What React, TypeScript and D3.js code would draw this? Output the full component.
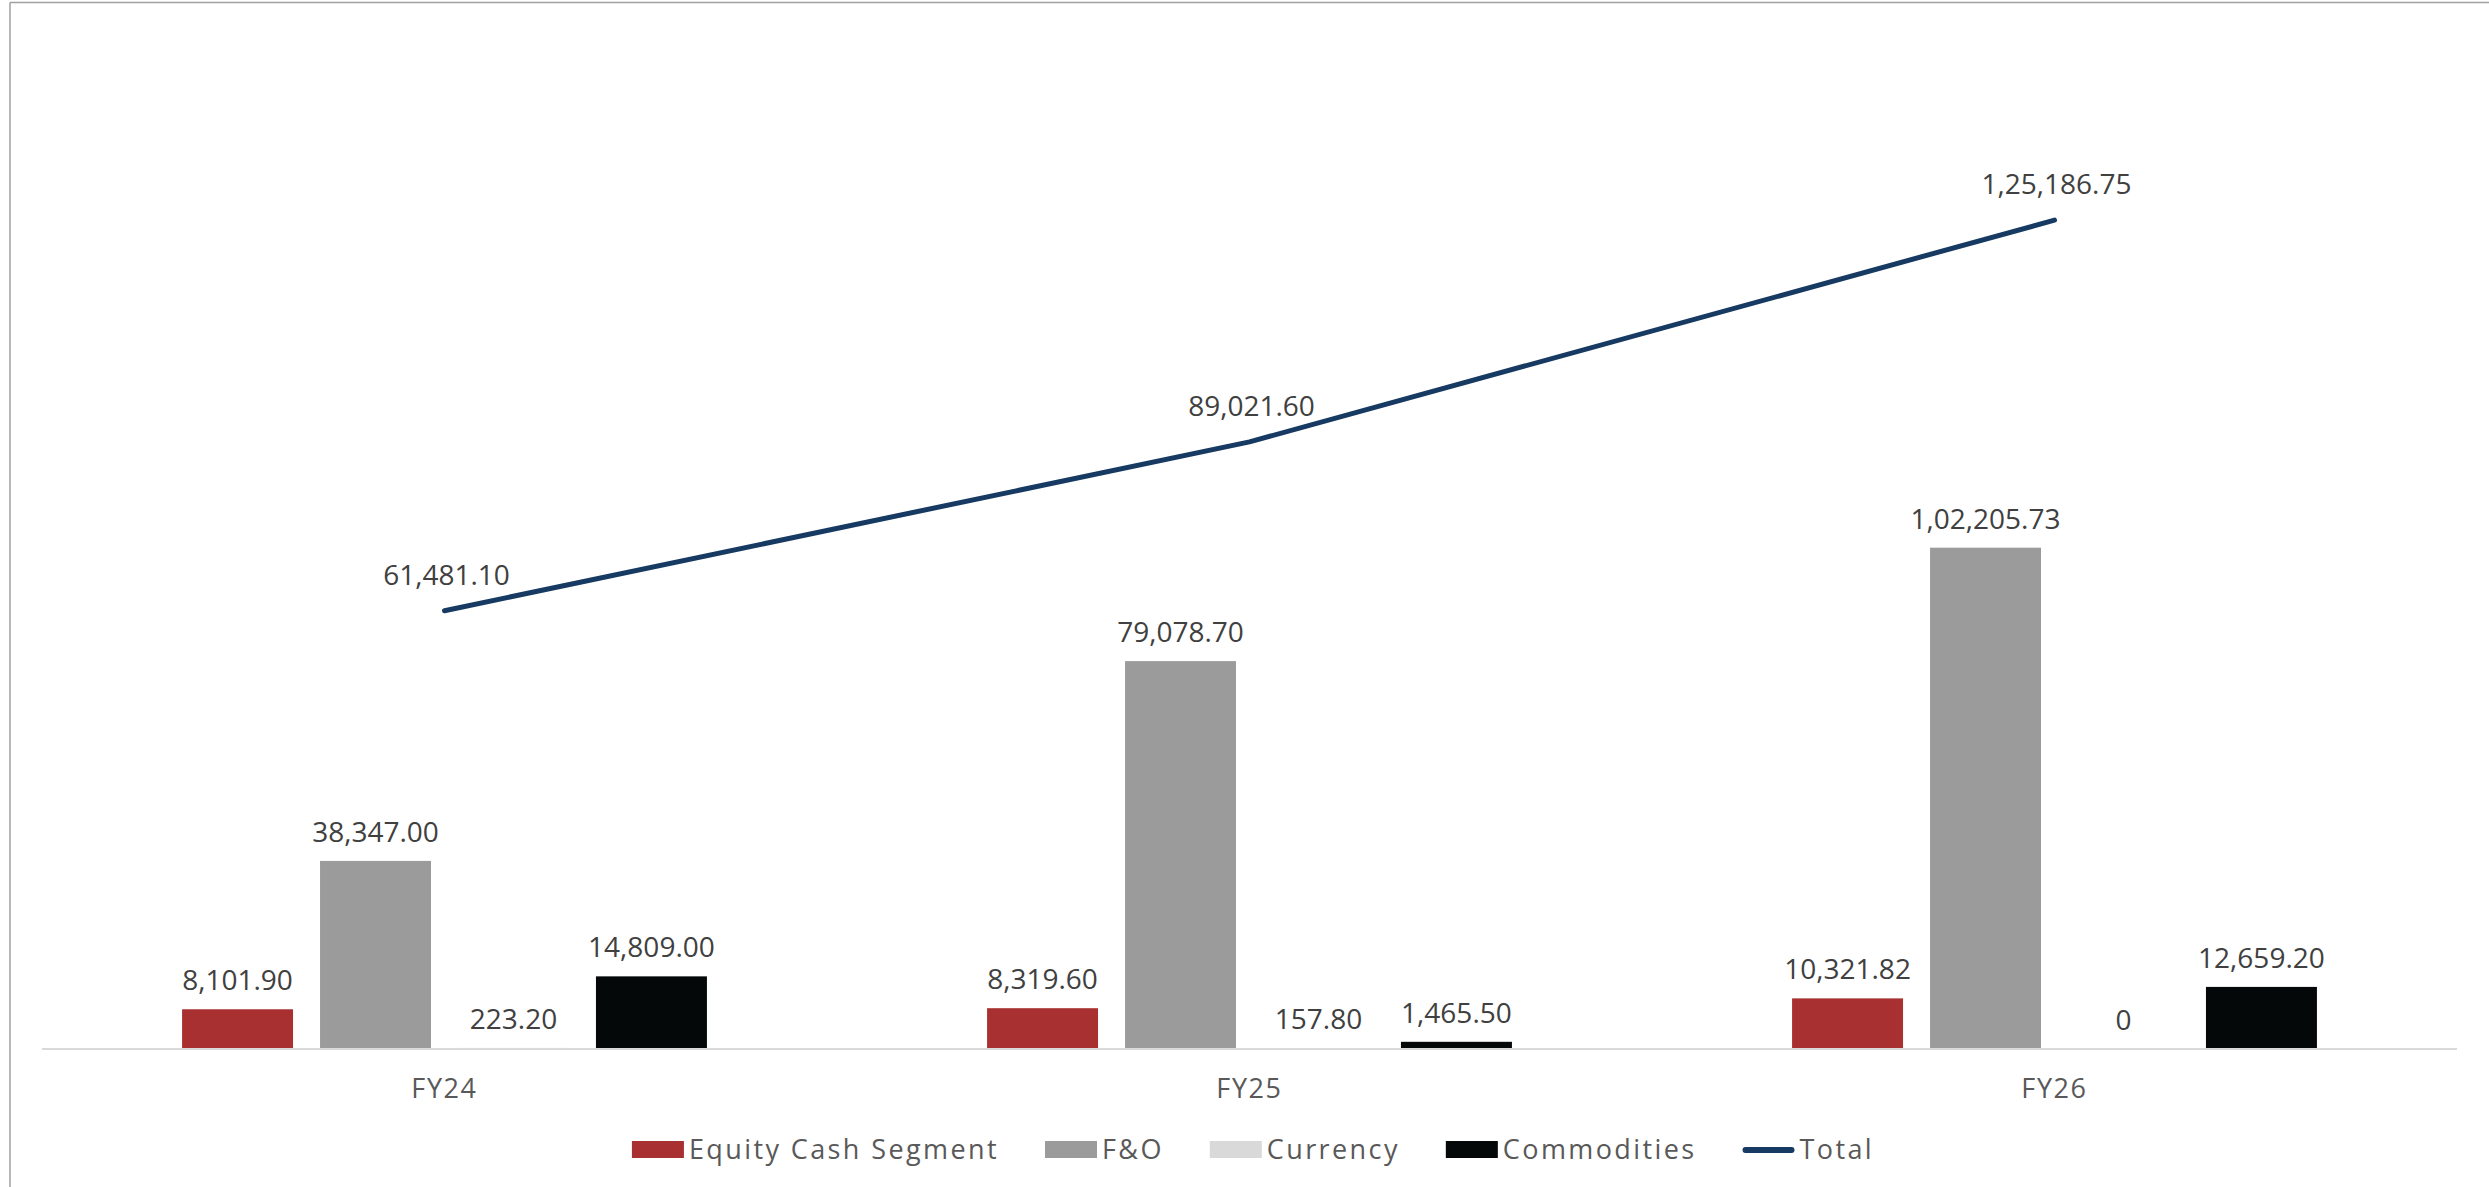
import React, { useEffect, useRef } from "react";
import * as d3 from "d3";

const categories = ["FY24", "FY25", "FY26"];
const equityCash = [8101.9, 8319.6, 10321.82];
const fno = [38347.0, 79078.7, 102205.73];
const currency = [223.2, 157.8, 0];
const commodities = [14809.0, 1465.5, 12659.2];
const total = [61481.1, 89021.6, 125186.75];

const barSeriesNames = ["Equity Cash Segment", "F&O", "Currency", "Commodities"];
const barSeriesValues = [equityCash, fno, currency, commodities];
const barColors = ["#A93030", "#9B9B9B", "#D9D9D9", "#040808"];
const lineName = "Total";
const lineColor = "#163A62";

const primaryDomain = [0, 200000];
const secondaryDomain = [-10000, 150000];

const W = 2489;
const H = 1187;

function fmtIndian(v: number): string {
  if (v === 0) return "0";
  const neg = v < 0;
  const s = Math.abs(v).toFixed(2);
  const [intPart, dec] = s.split(".");
  let out = "";
  if (intPart.length <= 3) out = intPart;
  else {
    const last3 = intPart.slice(-3);
    let rest = intPart.slice(0, -3);
    const groups: string[] = [];
    while (rest.length > 2) {
      groups.unshift(rest.slice(-2));
      rest = rest.slice(0, -2);
    }
    if (rest.length) groups.unshift(rest);
    out = groups.join(",") + "," + last3;
  }
  return (neg ? "-" : "") + out + "." + dec;
}

export default function App() {
  const ref = useRef<SVGSVGElement | null>(null);

  useEffect(() => {
    const svg = d3.select(ref.current);
    svg.selectAll("*").remove();

    const plotLeft = 42;
    const plotRight = 2457;
    const plotTop = 68;
    const plotBottom = 1049;
    const font = "'Open Sans', sans-serif";

    // frame (cropped chart border)
    svg.append("line").attr("x1", 10).attr("x2", W).attr("y1", 2.5).attr("y2", 2.5)
      .attr("stroke", "#A0A0A0").attr("stroke-width", 1.5);
    svg.append("line").attr("x1", 10).attr("x2", 10).attr("y1", 2.5).attr("y2", H)
      .attr("stroke", "#A0A0A0").attr("stroke-width", 1.5);

    const x = d3.scaleBand<string>().domain(categories).range([plotLeft, plotRight]).padding(0);
    const groupW = x.bandwidth() * 0.652;
    const xInner = d3.scaleBand<string>().domain(barSeriesNames)
      .range([-groupW / 2, groupW / 2]).paddingInner(27 / 138).paddingOuter(0);
    const y = d3.scaleLinear().domain(primaryDomain).range([plotBottom, plotTop]);
    const y2 = d3.scaleLinear().domain(secondaryDomain).range([plotBottom, plotTop]);

    // bars
    barSeriesNames.forEach((name, si) => {
      const vals = barSeriesValues[si];
      const g = svg.append("g");
      g.selectAll("rect").data(vals).enter().append("rect")
        .attr("x", (_d, i) => (x(categories[i]) as number) + x.bandwidth() / 2 + (xInner(name) as number))
        .attr("width", xInner.bandwidth())
        .attr("y", (d) => y(d))
        .attr("height", (d) => y(0) - y(d))
        .attr("fill", barColors[si]);
    });

    // axis line
    svg.append("line").attr("x1", plotLeft).attr("x2", plotRight)
      .attr("y1", plotBottom).attr("y2", plotBottom)
      .attr("stroke", "#D9D9D9").attr("stroke-width", 2);

    // bar labels
    barSeriesNames.forEach((name, si) => {
      const vals = barSeriesValues[si];
      svg.append("g").selectAll("text").data(vals).enter().append("text")
        .attr("x", (_d, i) => (x(categories[i]) as number) + x.bandwidth() / 2 + (xInner(name) as number) + xInner.bandwidth() / 2)
        .attr("y", (d) => y(d) - 19)
        .attr("text-anchor", "middle")
        .attr("font-family", font)
        .attr("font-size", 28)
        .attr("fill", "#404040")
        .text((d) => fmtIndian(d));
    });

    // line
    const line = d3.line<number>()
      .x((_d, i) => (x(categories[i]) as number) + x.bandwidth() / 2)
      .y((d) => y2(d));
    svg.append("path").datum(total).attr("d", line)
      .attr("fill", "none").attr("stroke", lineColor).attr("stroke-width", 5)
      .attr("stroke-linecap", "round").attr("stroke-linejoin", "round");

    svg.append("g").selectAll("text").data(total).enter().append("text")
      .attr("x", (_d, i) => (x(categories[i]) as number) + x.bandwidth() / 2 + 2)
      .attr("y", (d) => y2(d) - 26)
      .attr("text-anchor", "middle")
      .attr("font-family", font)
      .attr("font-size", 28)
      .attr("fill", "#404040")
      .text((d) => fmtIndian(d));

    // category labels
    svg.append("g").selectAll("text").data(categories).enter().append("text")
      .attr("x", (d) => (x(d) as number) + x.bandwidth() / 2)
      .attr("y", 1098)
      .attr("text-anchor", "middle")
      .attr("font-family", font)
      .attr("font-size", 27)
      .attr("letter-spacing", 1.6)
      .attr("fill", "#595959")
      .text((d) => d);

    // legend
    const legendItems = [
      ...barSeriesNames.map((n, i) => ({ name: n, color: barColors[i], type: "rect" })),
      { name: lineName, color: lineColor, type: "line" },
    ];
    const lg = svg.append("g");
    const swW = 52;
    const swGap = 5;
    const itemGap = 46;
    const widths: number[] = [];
    const items = legendItems.map((it) => {
      const g = lg.append("g");
      if (it.type === "rect") {
        g.append("rect").attr("x", 0).attr("y", 1141).attr("width", swW).attr("height", 17).attr("fill", it.color);
      } else {
        g.append("line").attr("x1", 3).attr("x2", swW - 3).attr("y1", 1150).attr("y2", 1150)
          .attr("stroke", it.color).attr("stroke-width", 6).attr("stroke-linecap", "round");
      }
      const t = g.append("text").attr("x", swW + swGap).attr("y", 1159)
        .attr("font-family", font).attr("font-size", 27).attr("letter-spacing", 2.4)
        .attr("fill", "#595959").text(it.name);
      const tw = (t.node() as SVGTextElement).getComputedTextLength();
      widths.push(swW + swGap + tw);
      return g;
    });
    const totalW = d3.sum(widths) + itemGap * (widths.length - 1);
    let cx = 1253 - totalW / 2;
    items.forEach((g, i) => {
      g.attr("transform", `translate(${cx},0)`);
      cx += widths[i] + itemGap;
    });
  }, []);

  return (
    <svg
      ref={ref}
      width={W}
      height={H}
      style={{ position: "absolute", left: 0, top: 0, background: "#fff" }}
    />
  );
}
